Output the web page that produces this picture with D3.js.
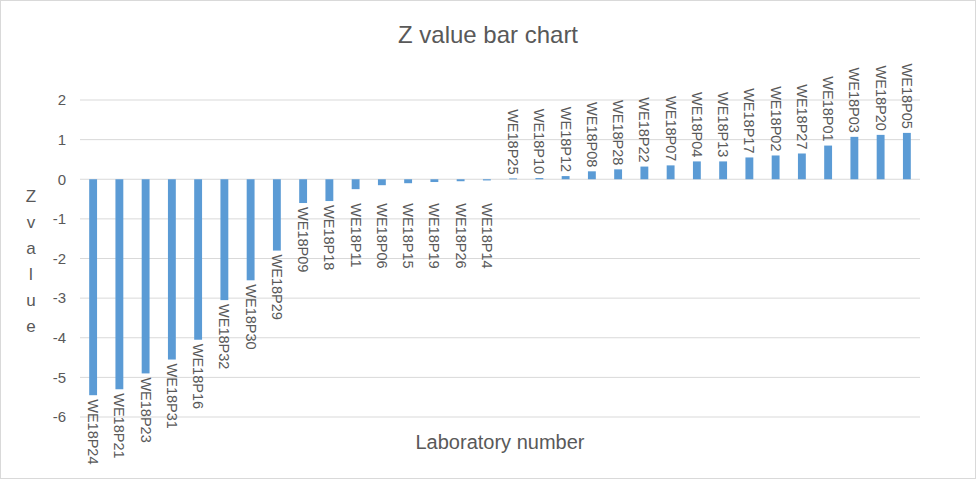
<!DOCTYPE html>
<html>
<head>
<meta charset="utf-8">
<script src="https://cdn.jsdelivr.net/npm/d3@7"></script>
<style>
  body { margin: 0; background: #fff; }
  text { font-family: "Liberation Sans", Arial, sans-serif; fill: #595959; }
</style>
</head>
<body>
<svg id="chart" width="977" height="480"></svg>
<script>
var labs = ["WE18P24","WE18P21","WE18P23","WE18P31","WE18P16","WE18P32","WE18P30","WE18P29",
            "WE18P09","WE18P18","WE18P11","WE18P06","WE18P15","WE18P19","WE18P26","WE18P14",
            "WE18P25","WE18P10","WE18P12","WE18P08","WE18P28","WE18P22","WE18P07","WE18P04",
            "WE18P13","WE18P17","WE18P02","WE18P27","WE18P01","WE18P03","WE18P20","WE18P05"];
var zValues = [-5.45,-5.3,-4.9,-4.55,-4.05,-3.05,-2.55,-1.8,
               -0.6,-0.55,-0.25,-0.15,-0.1,-0.07,-0.05,-0.03,
               0.02,0.03,0.08,0.2,0.25,0.32,0.35,0.45,
               0.45,0.55,0.6,0.65,0.85,1.07,1.12,1.17];
var yTicks = [2,1,0,-1,-2,-3,-4,-5,-6];

var svg = d3.select("#chart");
svg.append("rect").attr("x",0.5).attr("y",0.5).attr("width",975).attr("height",478)
   .attr("fill","#fff").attr("stroke","#d9d9d9");

var x = d3.scaleBand().domain(labs).range([80, 920]).paddingInner(0.7).paddingOuter(0.35);
var y = d3.scaleLinear().domain([-6, 2]).range([417, 100]);

// gridlines
svg.append("g").selectAll("line").data(yTicks).join("line")
   .attr("x1",80).attr("x2",920)
   .attr("y1",d => y(d)).attr("y2",d => y(d))
   .attr("stroke","#d9d9d9");

// tick labels
svg.append("g").selectAll("text").data(yTicks).join("text")
   .attr("x",66).attr("y",d => y(d)).attr("dy","0.35em")
   .attr("text-anchor","end").attr("font-size",15)
   .text(d => d);

// bars
svg.append("g").selectAll("rect").data(zValues).join("rect")
   .attr("x",(d,i) => x(labs[i]))
   .attr("width",x.bandwidth())
   .attr("y",d => y(Math.max(0,d)))
   .attr("height",d => Math.abs(y(d) - y(0)))
   .attr("fill","#5b9bd5");

// data labels
svg.append("g").selectAll("text").data(zValues).join("text")
   .attr("transform",(d,i) => {
      var cx = x(labs[i]) + x.bandwidth()/2;
      var cy = d < 0 ? Math.max(y(d), y(0) + 20) + 4 : y(d) - 4;
      return "translate(" + cx + "," + cy + ") rotate(90)";
   })
   .attr("text-anchor",d => d < 0 ? "start" : "end")
   .attr("dy","0.35em")
   .attr("font-size",14.5)
   .text((d,i) => labs[i]);

// titles
svg.append("text").attr("x",488).attr("y",43).attr("text-anchor","middle")
   .attr("font-size",24).text("Z value bar chart");
svg.append("text").attr("x",500).attr("y",449).attr("text-anchor","middle")
   .attr("font-size",20).text("Laboratory number");
svg.append("g").selectAll("text").data("Zvalue".split("")).join("text")
   .attr("x",31).attr("y",(d,i) => 202 + i*26).attr("text-anchor","middle")
   .attr("font-size",17).text(d => d);
</script>
</body>
</html>
